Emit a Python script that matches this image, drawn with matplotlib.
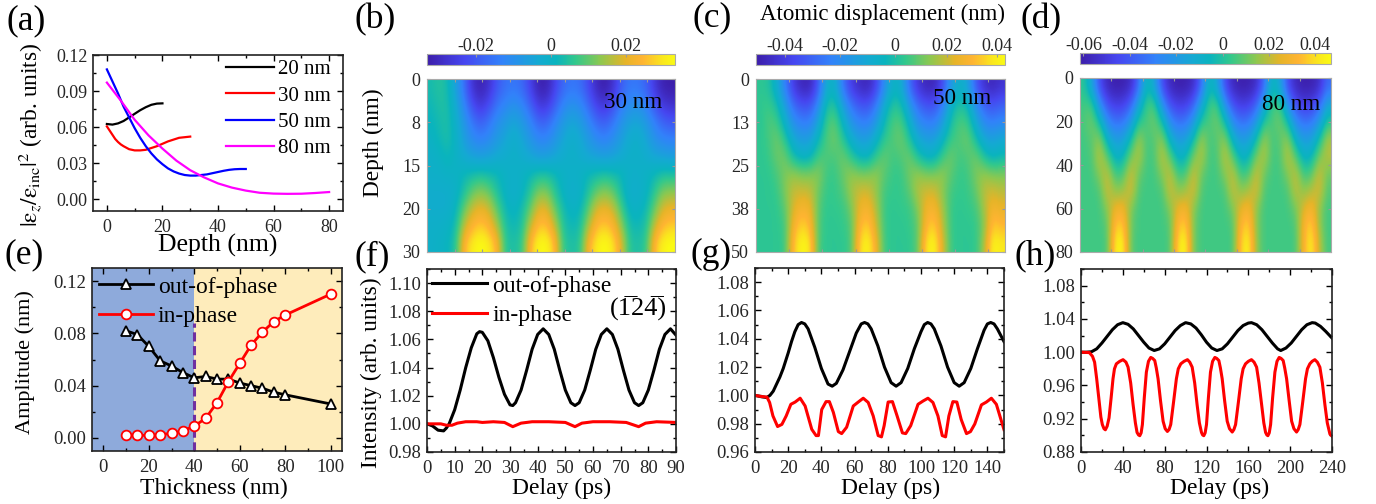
import numpy as np
import matplotlib
matplotlib.use('Agg')
import matplotlib.pyplot as plt
from matplotlib.colors import LinearSegmentedColormap
from matplotlib.ticker import MultipleLocator

plt.rcParams['font.family'] = ['Liberation Serif', 'DejaVu Serif']
plt.rcParams['mathtext.fontset'] = 'stix'

# panel (a) strain profiles
depth_20 = [0, 2, 4, 6, 8, 10, 12, 14, 16, 18, 20]
strain_20 = [.0625, .062, .063, .065, .068, .071, .074, .0765, .0785, .0795, .0797]
depth_30 = [0, 1, 2, 3, 4, 5, 6, 8, 10, 12, 14, 16, 18, 20, 22, 24, 26, 28, 30]
strain_30 = [.0605, .057, .0535, .05, .0475, .0455, .044, .0415, .0405, .0405, .041, .0425, .044, .046, .048,
             .0495, .051, .0515, .052]
depth_50 = [0, 2, 4, 6, 8, 10, 12, 14, 16, 18, 20, 22, 24, 26, 28, 30, 32, 34, 36, 38, 40, 42, 44, 46, 48, 50]
strain_50 = [.108, .098, .088, .077, .068, .059, .051, .044, .038, .033, .029, .0255, .023, .0212, .02, .0195,
             .0195, .02, .0205, .0215, .0225, .0235, .0243, .0248, .025, .025]
depth_80 = [0, 5, 10, 15, 20, 25, 30, 35, 40, 45, 50, 55, 60, 65, 70, 75, 80]
strain_80 = [.097, .082, .066, .053, .042, .032, .024, .018, .013, .0095, .007, .0052, .0045, .0043, .0044, .005,
             .0058]

# panel (e) amplitudes
thickness = [10, 15, 20, 25, 30, 35, 40, 45, 50, 55, 60, 65, 70, 75, 80, 100]
amp_out = [.082, .079, .070, .059, .055, .050, .046, .047, .045, .045, .042, .040, .038, .035, .033, .026]
amp_in = [.0025, .002, .002, .0025, .0035, .0055, .009, .015, .027, .043, .057, .071, .081, .089, .094, .110]

# panel (f) intensity
t_f_out = [0, 2, 4, 6, 7, 8, 10, 12, 14, 16, 18, 19, 20, 22, 24, 26, 28, 30, 31, 32, 34, 36, 38, 40, 42, 44, 46, 48,
           50, 52, 53.5, 55, 57, 59, 61, 63, 65, 67, 69, 71, 73, 75, 76.5, 78, 80, 82, 84, 86, 88, 90]
i_f_out = [1.0, .9985, .9955, .995, .997, 1.0, 1.01, 1.024, 1.04, 1.054, 1.064, 1.0655, 1.065, 1.059, 1.047, 1.033,
           1.021, 1.0135, 1.013, 1.015, 1.024, 1.038, 1.053, 1.0635, 1.0675, 1.0635, 1.053, 1.038, 1.024, 1.015,
           1.013, 1.015, 1.024, 1.038, 1.053, 1.0635, 1.0675, 1.0635, 1.053, 1.038, 1.024, 1.015, 1.013, 1.015,
           1.024, 1.038, 1.053, 1.0635, 1.0675, 1.063]
t_f_in = [0, 5, 7, 9, 11, 14, 18, 20, 24, 28, 31, 34, 38, 44, 50, 53.5, 56, 60, 66, 72, 76.5, 79, 83, 90]
i_f_in = [1.0, 1.0, .999, .999, 1.0005, 1.0015, 1.0015, 1.001, 1.0015, 1.001, .998, 1.0005, 1.0015, 1.0015, 1.001,
          .998, 1.0005, 1.0015, 1.0015, 1.001, .998, 1.0005, 1.0015, 1.001]

# panel (g) intensity
t_g_out = [0, 4, 7, 9, 11, 13, 15, 17, 20, 22, 24, 26, 28, 30, 32, 36, 40, 44, 46.5, 49, 53, 57, 61, 64, 66, 68, 70,
           74, 78, 82, 85, 88, 92, 96, 100, 102, 104, 106, 108, 112, 116, 120, 123, 126, 130, 134, 138, 140, 142,
           144, 146, 150]
i_g_out = [1.0, .999, .9985, 1.0, 1.003, 1.008, 1.013, 1.019, 1.03, 1.038, 1.045, 1.05, 1.0515, 1.0505, 1.047, 1.034,
           1.019, 1.008, 1.0065, 1.0085, 1.018, 1.031, 1.044, 1.0505, 1.0515, 1.0505, 1.047, 1.035, 1.02, 1.009,
           1.0065, 1.009, 1.019, 1.033, 1.045, 1.05, 1.0515, 1.0505, 1.047, 1.035, 1.02, 1.009, 1.0065, 1.009,
           1.019, 1.033, 1.046, 1.0505, 1.0515, 1.0505, 1.047, 1.038]
t_g_in = [0, 3.2, 7.2, 8.8, 10.8, 13.6, 16.2, 18.8, 21.6, 24.2, 27.2, 30.2, 34.2, 36.8, 38.2, 40.2, 42.8, 44.8, 47.2,
          50.2, 52.2, 55.2, 59.2, 62.2, 65.2, 68.2, 71.2, 74.2, 76.2, 77.8, 80.2, 82.8, 85.6, 88.8, 90.8, 93.8,
          98.2, 101.2, 104.2, 107.2, 110.2, 112.8, 114.8, 116.8, 119.2, 121.6, 124.2, 127.4, 129.8, 132.4, 136.4,
          139.4, 142.4, 145.4, 148.4, 150]
i_g_in = [1.0, .9993, .9988, .995, .9855, .978, .9795, .9855, .9937, .9953, .998, .9925, .976, .9716, .9716, .99,
          .9956, .9956, .988, .9744, .973, .9775, .9925, .9953, .998, .995, .9855, .9716, .9707, .9786, .9953, .9956,
          .9855, .9735, .973, .9786, .9937, .996, .998, .995, .9855, .9716, .9707, .9855, .9956, .9953, .983, .973,
          .9744, .9798, .9933, .9953, .998, .9937, .982, .9758]

# panel (h) intensity
t_h_out = [0, 5, 10, 15, 20, 25, 30, 35, 40, 45, 50, 55, 60, 65, 70, 75, 80, 85, 90, 95, 100, 105, 110, 115, 120, 125,
           130, 135, 140, 145, 150, 155, 160, 163, 168, 173, 178, 183, 188, 191, 196, 201, 206, 211, 216, 221, 224,
           229, 234, 240]
i_h_out = [1.0, 1.0, 1.0005, 1.004, 1.011, 1.019, 1.027, 1.033, 1.0355, 1.0335, 1.028, 1.02, 1.012, 1.005, 1.002,
           1.004, 1.01, 1.018, 1.026, 1.032, 1.0355, 1.034, 1.029, 1.021, 1.012, 1.005, 1.002, 1.004, 1.01, 1.018,
           1.026, 1.032, 1.035, 1.0355, 1.033, 1.027, 1.019, 1.011, 1.004, 1.002, 1.005, 1.011, 1.019, 1.027, 1.033,
           1.0355, 1.035, 1.031, 1.025, 1.017]
t_h_in = [0, 8, 11, 13, 15, 17, 19, 20.4, 22, 23.3, 25, 26.8, 28.8, 30.6, 32, 33.8, 37, 40.2, 43, 45, 47.5, 49.8, 52,
          53.6, 55, 56.2, 57.5, 58.7, 60.5, 62.5, 64.5, 66.7, 68.5, 70.5, 72, 73.7, 76, 78.5, 80.5, 82.6, 84.2, 85.8,
          88.5, 91.2, 93, 95.4, 98.5, 101.8, 104, 106.3, 108.7, 111, 113.2, 115.2, 116.3, 117.4, 118.7, 120, 121.8,
          123.8, 125.8, 128, 129.8, 131.8, 133.3, 135, 137.3, 139.8, 142, 144.6, 146.2, 147.8, 150.5, 153.2, 155,
          157.3, 160, 163, 165.5, 167.9, 170.2, 172.7, 174.8, 176.5, 177.7, 178.7, 180, 181.3, 183.2, 185.4, 187.4,
          189.5, 191.3, 193.3, 194.8, 196.6, 199, 201.4, 203.6, 206.1, 207.7, 209.3, 212, 214.7, 216.5, 218.8, 221,
          223.6, 226, 228.4, 230.8, 233.2, 235.5, 238, 240]
i_h_in = [1.0, .9995, .995, .988, .968, .945, .922, .913, .908, .9067, .911, .921, .945, .968, .98, .986, .989, .991,
          .988, .982, .963, .937, .915, .9035, .9005, .8996, .903, .913, .945, .976, .989, .9937, .9925, .99, .981,
          .968, .942, .917, .908, .9047, .907, .913, .94, .968, .98, .986, .989, .991, .988, .982, .963, .937, .915,
          .9035, .9005, .8996, .903, .913, .945, .976, .989, .9937, .9925, .99, .981, .968, .942, .917, .908, .904,
          .907, .913, .94, .968, .98, .986, .989, .991, .988, .982, .963, .937, .915, .9035, .9005, .8996, .903,
          .913, .945, .976, .989, .9937, .9925, .99, .981, .968, .942, .917, .908, .904, .907, .913, .94, .968, .98,
          .986, .989, .991, .988, .982, .963, .937, .915, .9016, .899]

# displacement maps in pm, rows go down in depth, columns go along delay
disp_30 = [
    [3, 5, 3, -6, -16, -28, -32, -28, -20, -16, -15, -17, -24, -32, -32, -24, -17, -15, -16, -22, -30, -33, -28, -19, -15, -15, -18, -26, -32, -33],
    [2, 4, 4, -3, -12, -22, -27, -22, -15, -12, -9, -12, -18, -26, -26, -19, -12, -9, -11, -17, -24, -27, -22, -14, -10, -9, -13, -20, -26, -28],
    [1, 3, 4, -1, -8, -15, -19, -15, -10, -7, -4, -7, -12, -18, -18, -12, -7, -4, -6, -11, -17, -19, -15, -9, -5, -4, -7, -13, -18, -20],
    [0, 2, 4, 0, -6, -11, -13, -11, -7, -4, -1, -4, -8, -12, -12, -8, -4, -1, -3, -7, -11, -13, -10, -6, -2, -1, -4, -9, -12, -13],
    [-1, 0, 2, 0, -3, -5, -6, -5, -3, -2, -1, -2, -4, -6, -6, -4, -2, -1, -2, -4, -5, -6, -5, -3, -1, -1, -2, -4, -5, -6],
    [-1, -1, 0, 0, 2, 3, 4, 3, 2, 0, -1, 0, 2, 4, 4, 2, 0, -1, 0, 2, 3, 4, 3, 2, -1, -1, 0, 2, 4, 4],
    [-2, -2, -2, -1, 4, 10, 13, 10, 4, 0, -2, 0, 5, 12, 12, 5, 0, -2, -1, 4, 10, 13, 10, 3, -2, -2, 0, 5, 12, 13],
    [-2, -2, -2, 1, 10, 18, 21, 18, 9, 2, 0, 3, 10, 20, 20, 10, 3, 0, 1, 9, 19, 21, 18, 8, 0, 0, 2, 10, 19, 21],
    [-1, -1, 0, 3, 17, 24, 27, 24, 15, 4, 2, 4, 17, 26, 26, 17, 4, 2, 3, 15, 25, 27, 24, 14, 3, 2, 4, 17, 25, 27],
    [-1, 0, 1, 5, 25, 31, 34, 31, 24, 5, 4, 6, 25, 33, 33, 25, 6, 4, 5, 23, 31, 34, 30, 20, 5, 4, 6, 25, 32, 34],
]
disp_50 = [
    [3, 2, -8, -25, -42, -50, -50, -35, -8, -6, -28, -42, -48, -50, -40, -20, -5, -8, -30, -44, -50, -50, -38, -16, -6, -12, -34, -46, -50, -45],
    [3, 5, 0, -14, -30, -36, -36, -22, 0, 2, -14, -28, -35, -36, -26, -8, 2, 0, -16, -30, -36, -36, -25, -6, 1, -2, -20, -32, -36, -32],
    [2, 7, 6, -6, -20, -25, -25, -12, 5, 9, -5, -18, -24, -25, -16, -2, 7, 7, -6, -20, -25, -25, -15, 0, 7, 5, -10, -22, -25, -22],
    [3, 5, 11, 3, -10, -15, -14, -3, 7, 11, 3, -8, -14, -14, -6, 4, 7, 11, 2, -10, -14, -14, -5, 5, 7, 11, 0, -11, -14, -10],
    [3, 4, 10, 11, -1, -6, -5, 6, 7, 6, 11, 3, -4, -5, 4, 10, 5, 7, 11, 1, -5, -5, 5, 11, 5, 7, 11, 1, -5, -2],
    [3, 3, 6, 12, 15, 12, 12, 14, 5, 4, 10, 15, 12, 12, 15, 8, 4, 4, 11, 15, 12, 12, 15, 8, 4, 5, 12, 15, 12, 12],
    [3, 3, 4, 12, 20, 20, 20, 10, 4, 4, 7, 16, 21, 21, 14, 5, 4, 4, 8, 18, 21, 21, 13, 5, 4, 4, 9, 19, 21, 18],
    [3, 3, 3, 8, 22, 28, 26, 8, 3, 4, 4, 11, 25, 28, 17, 4, 3, 4, 4, 12, 26, 28, 16, 4, 3, 4, 5, 16, 28, 24],
    [3, 3, 3, 5, 27, 35, 31, 7, 3, 3, 4, 7, 30, 35, 20, 4, 3, 3, 4, 8, 30, 35, 18, 4, 3, 3, 4, 12, 34, 30],
    [3, 3, 3, 4, 32, 42, 39, 6, 3, 3, 3, 6, 36, 42, 26, 4, 3, 3, 3, 8, 38, 42, 22, 4, 3, 3, 3, 16, 42, 38],
]
disp_80 = [
    [2, -15, -44, -57, -61, -60, -55, -35, -3, -15, -44, -57, -61, -60, -55, -35, -3, -15, -44, -57, -61, -60, -55, -35, -3, -15, -44, -57, -61, -60, -55, -35],
    [5, 6, -24, -43, -49, -48, -38, -14, 5, 6, -24, -43, -49, -48, -38, -14, 5, 6, -24, -43, -49, -48, -38, -14, 5, 6, -24, -43, -49, -48, -38, -14],
    [6, 12, -2, -26, -34, -32, -20, 2, 6, 12, -2, -26, -34, -32, -20, 2, 6, 12, -2, -26, -34, -32, -20, 2, 6, 12, -2, -26, -34, -32, -20, 2],
    [5, 8, 16, -9, -19, -17, -3, 18, 5, 8, 16, -9, -19, -17, -3, 18, 5, 8, 16, -9, -19, -17, -3, 18, 5, 8, 16, -9, -19, -17, -3, 18],
    [5, 6, 22, 8, -8, -6, 12, 20, 5, 6, 22, 8, -8, -6, 12, 20, 5, 6, 22, 8, -8, -6, 12, 20, 5, 6, 22, 8, -8, -6, 12, 20],
    [5, 5, 14, 22, 4, 6, 24, 10, 5, 5, 14, 22, 4, 6, 24, 10, 5, 5, 14, 22, 4, 6, 24, 10, 5, 5, 13, 22, 4, 7, 24, 10],
    [5, 5, 6, 24, 14, 16, 25, 6, 5, 5, 6, 24, 14, 17, 25, 6, 5, 5, 6, 23, 14, 18, 25, 6, 5, 5, 6, 22, 14, 19, 25, 7],
    [5, 5, 5, 14, 28, 29, 12, 5, 5, 5, 5, 13, 27, 30, 13, 5, 5, 5, 5, 12, 26, 31, 14, 5, 5, 5, 5, 11, 24, 32, 15, 5],
    [5, 5, 5, 8, 37, 38, 10, 5, 5, 5, 5, 7, 35, 39, 11, 5, 5, 5, 5, 6, 33, 40, 13, 5, 5, 5, 5, 6, 30, 41, 15, 5],
    [5, 5, 5, 6, 45, 46, 8, 5, 5, 5, 5, 6, 42, 47, 10, 5, 5, 5, 5, 5, 38, 47, 14, 5, 5, 5, 5, 5, 30, 47, 20, 5],
]

# colour stops
bar_stops = [(0.0, '#3c1eaa'), (0.15, '#4646f0'), (0.30, '#3282fa'), (0.45, '#14aad2'), (0.52, '#0ab4be'),
             (0.60, '#32c88c'), (0.70, '#8cc850'), (0.80, '#e6b428'), (0.87, '#ffb432'), (0.95, '#fae61e'),
             (1.0, '#fafa14')]
parula = LinearSegmentedColormap.from_list('bar', bar_stops)

W, H = 1376, 504
TXT = '#262626'
fig = plt.figure(figsize=(W / 100, H / 100), dpi=100)


def add_ax(x0, y0, x1, y1):
    return fig.add_axes([x0 / W, 1 - y1 / H, (x1 - x0) / W, (y1 - y0) / H])


def set_labels(ax, xtext, xpos, ytext, ypos, xsize=17, ysize=17):
    # label centres are given in figure pixels
    if xtext:
        ax.set_xlabel(xtext, fontsize=xsize, color='black', va='center')
        ax.xaxis.set_label_coords(xpos[0] / W, 1 - xpos[1] / H, transform=fig.transFigure)
    if ytext:
        ax.set_ylabel(ytext, fontsize=ysize, color='black', va='center')
        ax.yaxis.set_label_coords(ypos[0] / W, 1 - ypos[1] / H, transform=fig.transFigure)


def style_line_ax(ax, xmajor, xminor, ymajor, yminor, size=13.5):
    ax.xaxis.set_major_locator(MultipleLocator(xmajor))
    ax.xaxis.set_minor_locator(MultipleLocator(xminor))
    ax.yaxis.set_major_locator(MultipleLocator(ymajor))
    ax.yaxis.set_minor_locator(MultipleLocator(yminor))
    ax.tick_params(which='major', direction='in', length=4, width=1, top=True, right=True, labelsize=size,
                   labelcolor=TXT)
    ax.tick_params(which='minor', direction='in', length=2, width=1, top=True, right=True)
    ax.tick_params(axis='x', which='major', pad=5.5)
    ax.tick_params(axis='y', which='major', pad=4)
    for s in ax.spines.values():
        s.set_linewidth(1.2)
        s.set_color('#222222')


def draw_map(box, cbox, data, xmax, ymax, vmin, vmax, yticks, ylabels, cticks, clabels, xstep):
    ax = add_ax(*box)
    im = ax.imshow(np.array(data) / 1000.0, cmap=parula, vmin=vmin, vmax=vmax, aspect='auto',
                   interpolation='bicubic', extent=[0, xmax, ymax, 0])
    ax.set_xticks(np.arange(xstep, xmax, xstep))
    ax.set_yticks(yticks)
    ax.set_yticklabels(ylabels)
    ax.tick_params(axis='x', direction='in', length=2, color='#999999', labelbottom=False, top=True)
    ax.tick_params(axis='y', direction='in', length=2, color='#999999', labelsize=13, labelcolor=TXT, right=True, pad=5)
    for s in ax.spines.values():
        s.set_color('#aaaaaa')
        s.set_linewidth(0.8)
    cax = add_ax(*cbox)
    cb = fig.colorbar(im, cax=cax, orientation='horizontal')
    cb.set_ticks(cticks)
    cb.set_ticklabels(clabels)
    cax.xaxis.tick_top()
    cax.tick_params(direction='in', length=2, color='#999999', labelsize=13, labelcolor=TXT, pad=-1)
    cb.outline.set_edgecolor('#aaaaaa')
    cb.outline.set_linewidth(0.8)
    return ax


# (a)
ax_a = add_ax(93, 55, 343, 211)
ax_a.plot(depth_20, strain_20, color='black', lw=1.6, label='20 nm')
ax_a.plot(depth_30, strain_30, color='red', lw=1.6, label='30 nm')
ax_a.plot(depth_50, strain_50, color='blue', lw=1.6, label='50 nm')
ax_a.plot(depth_80, strain_80, color='magenta', lw=1.6, label='80 nm')
ax_a.set_xlim(-5, 85)
ax_a.set_ylim(-0.01, 0.12)
style_line_ax(ax_a, 20, 10, 0.03, 0.015, size=13)
ax_a.yaxis.set_major_formatter(lambda v, p: '%.2f' % v)
ax_a.legend(loc='upper right', frameon=False, fontsize=15, handlelength=2.3, handletextpad=0.2, labelspacing=0.32,
            bbox_to_anchor=(1.008, 1.062), borderaxespad=0.3)
set_labels(ax_a, 'Depth (nm)', (218, 245), r'$|\mathrm{ε}_z/\mathrm{ε}_{\mathrm{inc}}|^2$ (arb. units)', (31, 135),
           xsize=18.5, ysize=16.8)

# (e)
ax_e = add_ax(92, 268, 342, 451)
ax_e.axvspan(-5, 40, color='#8eaadb', lw=0)
ax_e.axvspan(40, 105, color='#feecbb', lw=0)
ax_e.plot([40, 40], [-0.01, 0.088], color='#7030a0', lw=2.2, ls=(0, (3, 1.5)))
ax_e.plot(thickness, amp_out, color='black', lw=2, marker='^', ms=7.5, mfc='white', mec='black', mew=1.3,
          label='out-of-phase')
ax_e.plot(thickness, amp_in, color='red', lw=2, marker='o', ms=7, mfc='white', mec='red', mew=1.3, label='in-phase')
ax_e.set_xlim(-5, 105)
ax_e.set_ylim(-0.01, 0.13)
style_line_ax(ax_e, 20, 10, 0.04, 0.02)
ax_e.yaxis.set_major_formatter(lambda v, p: '%.2f' % v)
ax_e.legend(loc='upper left', frameon=False, fontsize=17, handlelength=2.28, handletextpad=0.21, labelspacing=0.34,
            borderaxespad=0.2, bbox_to_anchor=(-0.028, 1.033))
set_labels(ax_e, 'Thickness (nm)', (214, 488), 'Amplitude (nm)', (25, 362), ysize=16)

# (b), (c), (d)
ax_b = draw_map((427, 79, 675, 252), (427, 54, 675, 65), disp_30, 90, 30, -0.033, 0.033, [0, 7.5, 15, 22.5, 30],
                ['0', '8', '15', '20', '30'], [-0.02, 0, 0.02], ['-0.02', '0', '0.02'], 10)
ax_c = draw_map((756, 79, 1005, 252), (756, 54, 1005, 65), disp_50, 150, 50, -0.053, 0.042, [0, 12.5, 25, 37.5, 50],
                ['0', '13', '25', '38', '50'], [-0.042, -0.021, 0, 0.02, 0.039],
                ['-0.04', '-0.02', '0', '0.02', '0.04'], 20)
ax_d = draw_map((1080, 78, 1331, 252), (1080, 53, 1331, 64), disp_80, 240, 80, -0.0615, 0.0468, [0, 20, 40, 60, 80],
                ['0', '20', '40', '60', '80'], [-0.06, -0.04, -0.02, 0, 0.02, 0.04],
                ['-0.06', '-0.04', '-0.02', '0', '0.02', '0.04'], 30)
ax_b.set_ylabel('Depth (nm)', fontsize=16.8, va='center')
ax_b.yaxis.set_label_coords(373 / W, 1 - 143 / H, transform=fig.transFigure)
fig.text(633 / W, 1 - 102 / H, '30 nm', fontsize=16.7, ha='center', va='center')
fig.text(962 / W, 1 - 99 / H, '50 nm', fontsize=16.7, ha='center', va='center')
fig.text(1291 / W, 1 - 105 / H, '80 nm', fontsize=16.7, ha='center', va='center')
fig.text(883 / W, 1 - 14 / H, 'Atomic displacement (nm)', fontsize=16.5, ha='center', va='center')

# (f)
ax_f = add_ax(427, 269, 676, 452)
ax_f.plot(t_f_out, i_f_out, color='black', lw=2.2, label='out-of-phase')
ax_f.plot(t_f_in, i_f_in, color='red', lw=2.2, label='in-phase')
ax_f.set_xlim(0, 90)
ax_f.set_ylim(0.98, 1.11)
style_line_ax(ax_f, 10, 5, 0.02, 0.01)
ax_f.yaxis.set_major_formatter(lambda v, p: '%.2f' % v)
ax_f.legend(loc='upper left', frameon=False, fontsize=17, handlelength=2.33, handletextpad=0.21, labelspacing=0.34,
            borderaxespad=0.2, bbox_to_anchor=(-0.036, 1.044))
fig.text(638 / W, 1 - 308 / H, '(1\u03052' + '4\u0305)', fontsize=19, ha='center', va='center')
set_labels(ax_f, 'Delay (ps)', (562, 488), 'Intensity (arb. units)', (371, 373), ysize=16.8)

# (g)
ax_g = add_ax(755, 268, 1004, 452)
ax_g.plot(t_g_out, i_g_out, color='black', lw=2.2)
ax_g.plot(t_g_in, i_g_in, color='red', lw=2.2)
ax_g.set_xlim(0, 150)
ax_g.set_ylim(0.96, 1.09)
style_line_ax(ax_g, 20, 10, 0.02, 0.01)
ax_g.yaxis.set_major_formatter(lambda v, p: '%.2f' % v)
set_labels(ax_g, 'Delay (ps)', (891, 488), None, None)

# (h)
ax_h = add_ax(1081, 269, 1332, 452)
ax_h.plot(t_h_out, i_h_out, color='black', lw=2.2)
ax_h.plot(t_h_in, i_h_in, color='red', lw=2.2)
ax_h.set_xlim(0, 240)
ax_h.set_ylim(0.88, 1.10)
style_line_ax(ax_h, 40, 20, 0.04, 0.02)
ax_h.yaxis.set_major_formatter(lambda v, p: '%.2f' % v)
set_labels(ax_h, 'Delay (ps)', (1220, 488), None, None)

# panel letters
panel_names = ['(a)', '(b)', '(c)', '(d)', '(e)', '(f)', '(g)', '(h)']
panel_x = [6, 355, 692, 1020, 5, 354, 691, 1015]
panel_y = [29, 28, 26, 28, 263, 265, 263, 264]
for name, x, y in zip(panel_names, panel_x, panel_y):
    fig.text(x / W, 1 - y / H, name, fontsize=25.5, ha='left', va='baseline')

fig.savefig('out.png', dpi=100)
